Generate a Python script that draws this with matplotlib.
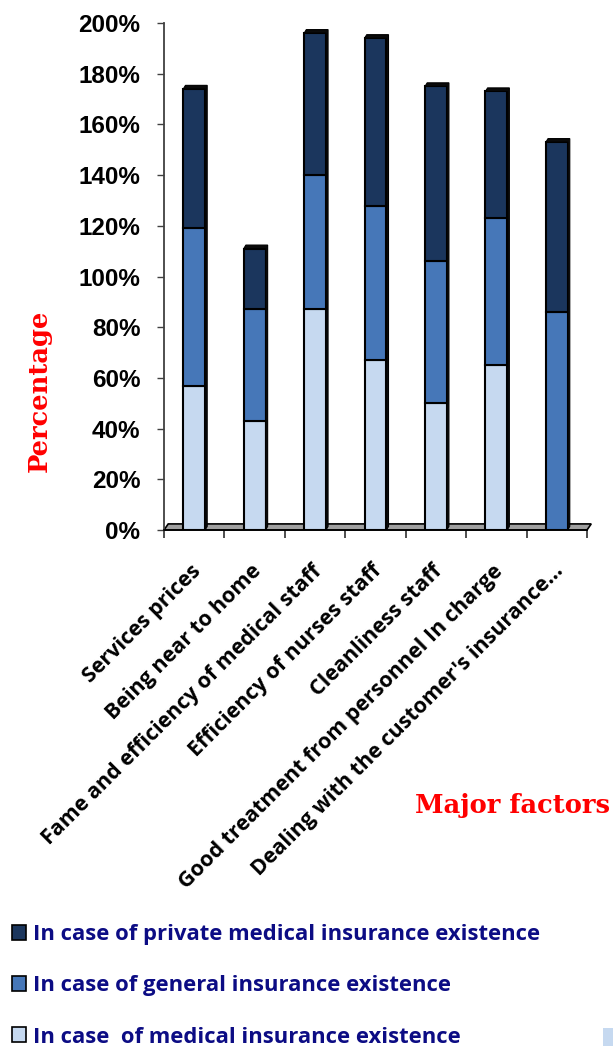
import numpy as np
import matplotlib
matplotlib.use("Agg")
import matplotlib.pyplot as plt
from matplotlib.patches import Patch, Polygon, Rectangle
from matplotlib.transforms import ScaledTranslation

factors = ["Services prices", "Being near to home", "Fame and efficiency of medical staff",
           "Efficiency of nurses staff", "Cleanliness staff",
           "Good treatment from personnel In charge", "Dealing with the customer's insurance\u2026"]
medical = [57, 43, 87, 67, 50, 65, 0]
general = [62, 44, 53, 61, 56, 58, 86]
private = [55, 24, 56, 66, 69, 50, 67]
series_names = ["In case of private medical insurance existence",
                "In case of general insurance existence",
                "In case  of medical insurance existence"]
yticks = np.arange(0, 201, 20)

c_light, c_mid, c_dark = "#c6d9f0", "#4677b8", "#1b365d"
label_font = ["Open Sans", "DejaVu Sans"]

fig = plt.figure(figsize=(6.13, 10.46), dpi=100)
ax = fig.add_axes([164 / 613, 516 / 1046, 423 / 613, 507 / 1046])

x = np.arange(len(factors))
w = 0.36
medical = np.array(medical)
general = np.array(general)
private = np.array(private)
totals = medical + general + private

# gray floor under the bars
floor = Polygon([(-0.5, 0), (6.5, 0), (6.57, 2.4), (-0.43, 2.4)], closed=True,
                facecolor="#a0a0a0", edgecolor="black", lw=1.2, zorder=2, clip_on=False)
ax.add_patch(floor)

ax.bar(x, medical, w, color=c_light, edgecolor="black", lw=1.5, zorder=3)
ax.bar(x, general, w, bottom=medical, color=c_mid, edgecolor="black", lw=1.5, zorder=3)
ax.bar(x, private, w, bottom=medical + general, color=c_dark, edgecolor="black", lw=1.5, zorder=3)

# dark top and side faces for the 3-D look
dx, dy = 0.035, 1.4
for xi, t in zip(x, totals):
    x0, x1 = xi - w / 2, xi + w / 2
    ax.add_patch(Polygon([(x0, t), (x0 + dx, t + dy), (x1 + dx, t + dy), (x1 + dx, dy), (x1, 0), (x1, t)],
                         closed=True, facecolor="#0a0a0a", edgecolor="black", lw=0.8, zorder=4))

ax.set_xlim(-0.5, 6.5)
ax.set_ylim(0, 200)
ax.set_yticks(yticks)
ax.set_yticklabels([f"{v}%" for v in yticks], fontfamily="Liberation Sans",
                   fontweight="bold", fontsize=17.5)
ax.tick_params(axis="y", length=5, width=1, color="#404040", pad=12)
ax.set_xticks([])
ax.set_xticks(np.arange(-0.5, 7), minor=True)
ax.tick_params(axis="x", which="minor", length=6, width=1.2, color="#303030")
for s in ["top", "right"]:
    ax.spines[s].set_visible(False)
ax.spines["left"].set_color("#404040")
ax.spines["left"].set_linewidth(1.3)
ax.spines["bottom"].set_linewidth(1.2)

shift = ScaledTranslation(-3 / 72, -22 / 72, fig.dpi_scale_trans)
for xi, name in zip(x, factors):
    ax.text(xi, 0, name, transform=ax.get_xaxis_transform() + shift, rotation=45,
            ha="right", va="top", rotation_mode="anchor", family=label_font,
            fontweight="bold", fontsize=15.5, color="black")

fig.text(39 / 613, 1 - 391 / 1046, "Percentage", rotation=90, ha="center", va="center",
         family="DejaVu Serif", fontweight="bold", fontsize=18.5, color="red")
fig.text(415 / 613, 1 - 813 / 1046, "Major factors", ha="left", va="baseline",
         family="DejaVu Serif", fontweight="bold", fontsize=18.5, color="red")

handles = [Patch(facecolor=c, edgecolor="black", lw=1.2) for c in (c_dark, c_mid, c_light)]
fig.legend(handles, series_names, loc="upper left", bbox_to_anchor=(12 / 613, 1 - 924 / 1046),
           frameon=False, borderpad=0, borderaxespad=0, handlelength=0.66, handleheight=0.66,
           handletextpad=0.28, labelspacing=1.38,
           prop={"family": label_font, "weight": "bold", "size": 15.8}, labelcolor="#0c0c84")

fig.add_artist(Rectangle((603 / 613, 0), 10 / 613, 18 / 1046, transform=fig.transFigure,
                         facecolor=c_light, edgecolor="none"))

fig.savefig("out.png", dpi=100)
